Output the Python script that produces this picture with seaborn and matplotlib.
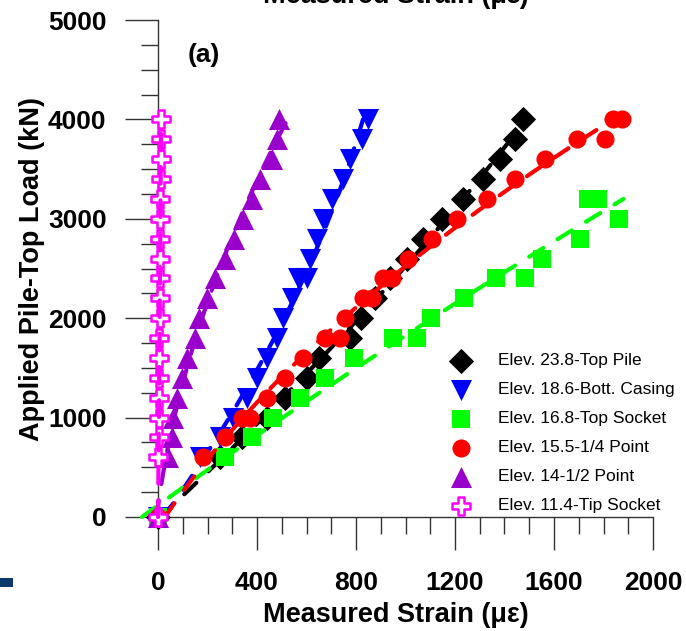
import numpy as np
import pandas as pd
import matplotlib
matplotlib.use("Agg")
import matplotlib.pyplot as plt
import seaborn as sns
from matplotlib.ticker import FixedLocator, NullFormatter
from matplotlib.patches import Rectangle

# ---------------- data ----------------
series_labels = ["Elev. 23.8-Top Pile", "Elev. 18.6-Bott. Casing", "Elev. 16.8-Top Socket",
                 "Elev. 15.5-1/4 Point", "Elev. 14-1/2 Point", "Elev. 11.4-Tip Socket"]
series_colors = ["#000000", "#0000FF", "#00FF00", "#FF0000", "#9900CC", "#FF00FF"]
series_markers = ["D", "v", "s", "o", "^", "P"]

load_top_pile = [0, 600, 800, 1000, 1200, 1400, 1600, 1800, 2000, 2200, 2400, 2600, 2800, 3000,
                 3200, 3400, 3600, 3800, 4000]
strain_top_pile = [0, 250, 339, 440, 513, 600, 650, 776, 822, 877, 937, 1006, 1071, 1147,
                   1232, 1313, 1382, 1442, 1475]

load_bott_casing = [0, 600, 800, 1000, 1200, 1400, 1600, 1800, 2000, 2200, 2400, 2400, 2600, 2800,
                    3000, 3200, 3400, 3600, 3800, 4000]
strain_bott_casing = [0, 170, 250, 303, 360, 400, 440, 481, 505, 541, 566, 602, 614, 642,
                      667, 703, 747, 776, 824, 848]

load_top_socket = [0, 600, 800, 1000, 1200, 1400, 1600, 1800, 1800, 2000, 2200, 2400, 2400, 2600,
                   2800, 3000, 3200, 3200]
strain_top_socket = [0, 271, 380, 465, 574, 675, 790, 949, 1046, 1103, 1236, 1366, 1483, 1551,
                     1705, 1862, 1737, 1778]

load_quarter = [0, 600, 800, 1000, 1000, 1200, 1400, 1600, 1800, 1800, 2000, 2200, 2200, 2400, 2400,
                2600, 2800, 3000, 3200, 3400, 3600, 3800, 3800, 4000, 4000]
strain_quarter = [0, 182, 271, 339, 372, 440, 513, 586, 675, 735, 755, 828, 865, 909, 945,
                  1010, 1107, 1208, 1329, 1442, 1564, 1693, 1806, 1838, 1875]

load_half = [0, 600, 800, 1000, 1200, 1400, 1600, 1800, 2000, 2200, 2400, 2600, 2800, 3000,
             3200, 3400, 3600, 3800, 4000]
strain_half = [0, 40, 56, 60, 78, 97, 118, 150, 167, 198, 230, 271, 307, 343,
               380, 412, 460, 481, 489]

load_tip = [0, 600, 800, 1000, 1200, 1400, 1600, 1800, 2000, 2200, 2400, 2600, 2800, 3000,
            3200, 3400, 3600, 3800, 4000]
strain_tip = [0, 2, 3, 4, 5, 5, 6, 6, 7, 7, 8, 9, 9, 9, 10, 11, 11, 12, 13]

x_major = [0, 400, 800, 1200, 1600, 2000]
x_minor = list(range(0, 2001, 100))
y_major = [0, 1000, 2000, 3000, 4000, 5000]
y_minor = list(range(0, 5001, 250))

all_strain = [strain_top_pile, strain_bott_casing, strain_top_socket, strain_quarter, strain_half, strain_tip]
all_load = [load_top_pile, load_bott_casing, load_top_socket, load_quarter, load_half, load_tip]

# ---------------- style ----------------
sns.set_theme(style="white")
plt.rcParams["font.family"] = ["Liberation Sans", "DejaVu Sans"]
plt.rcParams["font.weight"] = "bold"
plt.rcParams["text.color"] = "black"
plt.rcParams["axes.labelcolor"] = "black"
plt.rcParams["xtick.color"] = "black"
plt.rcParams["ytick.color"] = "black"

W, H = 686, 631
fig = plt.figure(figsize=(W / 100, H / 100), dpi=100)

xlim = (-130, 2120)
ylim = (-200, 5100)
px_x = 495 / 2000.0
px_y = 497 / 5000.0
left_px = 158 + xlim[0] * px_x
right_px = 158 + xlim[1] * px_x
bot_px = 517 - ylim[0] * px_y
top_px = 517 - ylim[1] * px_y
ax = fig.add_axes([left_px / W, (H - bot_px) / H, (right_px - left_px) / W, (bot_px - top_px) / H])
ax.set_facecolor("white")

sizes = [165, 230, 185, 170, 230, 175]
for i in range(6):
    df = pd.DataFrame({"strain": all_strain[i], "load": all_load[i]})
    # fitted trend line (strain as quadratic function of load)
    coef = np.polyfit(df["load"], df["strain"], 2)
    yy = np.linspace(0, df["load"].max(), 200)
    xx = np.polyval(coef, yy)
    ax.plot(xx, yy, color=series_colors[i], lw=3.0, ls=(0, (4, 4)),
            dash_capstyle="round", zorder=3 + 2 * i + 1, clip_on=False)
    if series_markers[i] == "P":
        sns.scatterplot(data=df, x="strain", y="load", marker="P", s=sizes[i],
                        color="white", edgecolor=series_colors[i], linewidth=1.8,
                        ax=ax, label=series_labels[i], zorder=3 + 2 * i, clip_on=False)
    else:
        sns.scatterplot(data=df, x="strain", y="load", marker=series_markers[i], s=sizes[i],
                        color=series_colors[i], edgecolor=series_colors[i], linewidth=0,
                        ax=ax, label=series_labels[i], zorder=3 + 2 * i, clip_on=False)

ax.set_xlim(*xlim)
ax.set_ylim(*ylim)

for s in ["top", "right"]:
    ax.spines[s].set_visible(False)
ax.spines["left"].set_position(("data", 0))
ax.spines["bottom"].set_position(("data", 0))
ax.spines["left"].set_bounds(0, 5000)
ax.spines["bottom"].set_bounds(0, 2000)
for s in ["left", "bottom"]:
    ax.spines[s].set_color("#333333")
    ax.spines[s].set_linewidth(1.0)

ax.xaxis.set_major_locator(FixedLocator(x_major))
ax.xaxis.set_minor_locator(FixedLocator(x_minor))
ax.yaxis.set_major_locator(FixedLocator(y_major))
ax.yaxis.set_minor_locator(FixedLocator(y_minor))
ax.set_xticklabels([str(v) for v in x_major])
ax.set_yticklabels([str(v) for v in y_major])
ax.xaxis.set_minor_formatter(NullFormatter())
ax.yaxis.set_minor_formatter(NullFormatter())
ax.tick_params(which="major", direction="out", length=24, width=1.0, color="#333333",
               labelsize=19, labelcolor="black", bottom=True, left=True)
ax.tick_params(which="minor", direction="out", length=12, width=1.0, color="#333333",
               bottom=True, left=True)
ax.tick_params(axis="x", which="major", pad=15)
ax.tick_params(axis="y", which="major", pad=13)
for lbl in ax.get_xticklabels() + ax.get_yticklabels():
    lbl.set_fontweight("bold")

ax.set_xlabel("Measured Strain (\u03bc\u03b5)", fontsize=19.5, fontweight="bold", color="black")
ax.set_ylabel("Applied Pile-Top Load (kN)", fontsize=19.5, fontweight="bold", color="black")
ax.xaxis.set_label_coords((396 - left_px) / (right_px - left_px), (bot_px - 602) / (bot_px - top_px))
ax.yaxis.set_label_coords((45 - left_px) / (right_px - left_px), (bot_px - 269) / (bot_px - top_px))

ax.text((204 - left_px) / (right_px - left_px), (bot_px - 55) / (bot_px - top_px), "(a)",
        transform=ax.transAxes, ha="center", va="center", fontsize=19, fontweight="bold")

# cropped title of panel above
fig.text(396 / W, 1 - 3 / H, "Measured Strain (\u03bc\u03b5)", ha="center", va="baseline",
         fontsize=19.5, fontweight="bold")

# small navy mark at left edge
fig.patches.append(Rectangle((0, 1 - 587 / H), 13 / W, 9 / H, transform=fig.transFigure,
                             facecolor="#0a3a6b", edgecolor="none"))

handles, labels = ax.get_legend_handles_labels()
leg = ax.legend(handles, labels, loc="upper left", bbox_to_anchor=(448 / W, 1 - 353 / H),
                bbox_transform=fig.transFigure, frameon=False, borderpad=0, borderaxespad=0,
                handlelength=1.5, handletextpad=1.38, labelspacing=0.8,
                prop={"family": ["Liberation Sans", "DejaVu Sans"], "weight": "normal", "size": 12.5})
for t in leg.get_texts():
    t.set_color("black")

fig.savefig("out.png", dpi=100, facecolor="white")
